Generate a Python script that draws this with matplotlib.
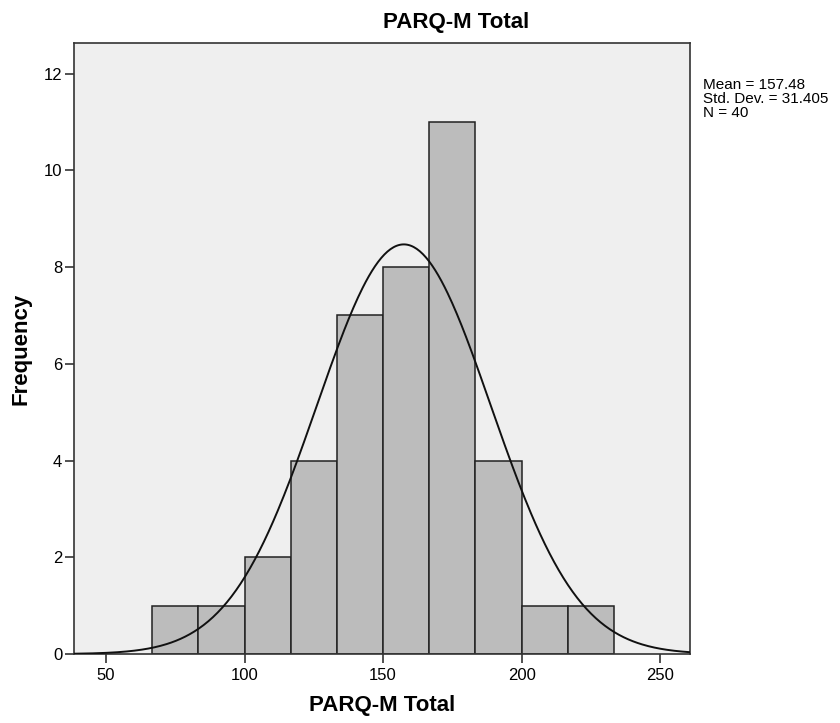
import numpy as np
import matplotlib.pyplot as plt

plt.rcParams['font.family'] = ['Liberation Sans', 'DejaVu Sans']

# Histogram of PARQ-M Total scores (SPSS style)
bin_edges = [66.67, 83.33, 100.0, 116.67, 133.33, 150.0, 166.67, 183.33, 200.0, 216.67, 233.33]
counts = [1, 1, 2, 4, 7, 8, 11, 4, 1, 1]
mean = 157.48
std_dev = 31.405
n = 40

x_ticks = [50, 100, 150, 200, 250]
y_ticks = [0, 2, 4, 6, 8, 10, 12]

fig = plt.figure(figsize=(8.4, 7.23), dpi=100)
ax = fig.add_axes([0.0881, 0.0954, 0.7333, 0.845])
ax.set_facecolor('#efefef')

lefts = bin_edges[:-1]
widths = np.diff(bin_edges)
ax.bar(lefts, counts, width=widths, align='edge', color='#bcbcbc',
       edgecolor='#222222', linewidth=1.1, zorder=2)

# normal curve scaled to the histogram
bin_w = widths.mean()
xs = np.linspace(38.4, 260.8, 400)
ys = n * bin_w * np.exp(-0.5 * ((xs - mean) / std_dev) ** 2) / (std_dev * np.sqrt(2 * np.pi))
ax.plot(xs, ys, color='#111111', linewidth=1.4, zorder=3)

ax.set_xlim(38.4, 260.8)
ax.set_ylim(0, 12.63)
ax.set_xticks(x_ticks)
ax.set_yticks(y_ticks)
ax.tick_params(axis='both', direction='out', length=6.5, width=1.2,
               color='#333333', labelsize=12)
ax.tick_params(axis='x', pad=3.5)
ax.tick_params(axis='y', pad=2)

for side in ['left', 'right', 'top', 'bottom']:
    ax.spines[side].set_color('#333333')
    ax.spines[side].set_linewidth(1.2)

ax.set_xlabel('PARQ-M Total', fontsize=16, fontweight='bold', labelpad=9)
ax.set_ylabel('Frequency', fontsize=16, fontweight='bold', labelpad=9)

fig.text(0.543, 0.969, 'PARQ-M Total', fontsize=16, fontweight='bold',
         ha='center', va='center')

fig.text(0.837, 0.892, f"Mean = {mean:.2f}\nStd. Dev. = {std_dev:.3f}\nN = {n}",
         fontsize=11, ha='left', va='top', linespacing=1.0)

fig.savefig('out.png', dpi=100)
